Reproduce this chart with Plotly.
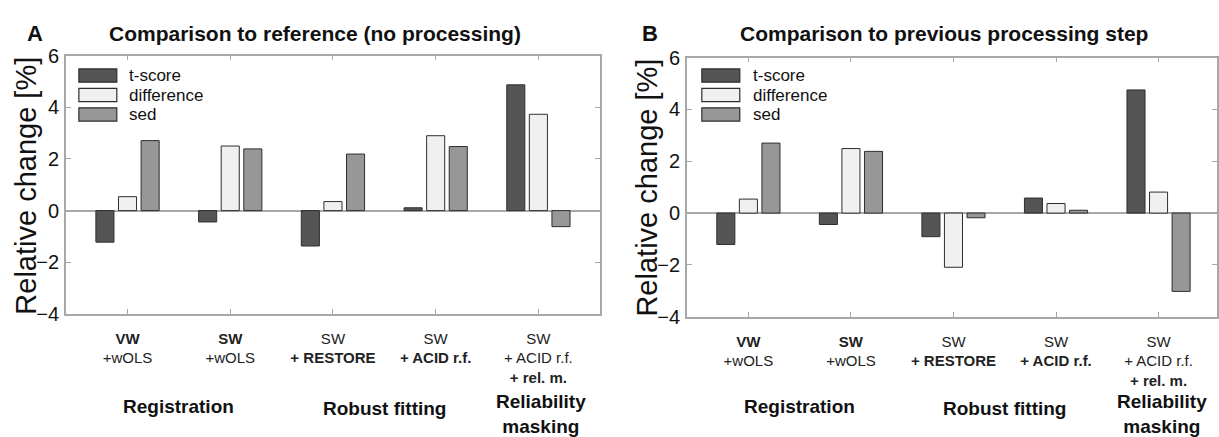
import plotly.graph_objects as go

W, H = 1219, 437

categories = [0, 1, 2, 3, 4]
tick_labels = [
    "<b>VW</b><br>+wOLS",
    "<b>SW</b><br>+wOLS",
    "SW<br><b>+ RESTORE</b>",
    "SW<br><b>+ ACID r.f.</b>",
    "SW<br>+ ACID r.f.<br><b>+ rel. m.</b>",
]
series_names = ["t-score", "difference", "sed"]

# Panel A: comparison to reference (no processing)
a_tscore = [-1.22, -0.44, -1.37, 0.11, 4.87]
a_difference = [0.54, 2.50, 0.35, 2.90, 3.73]
a_sed = [2.71, 2.39, 2.19, 2.48, -0.62]

# Panel B: comparison to previous processing step
b_tscore = [-1.21, -0.44, -0.91, 0.58, 4.75]
b_difference = [0.54, 2.49, -2.09, 0.37, 0.81]
b_sed = [2.70, 2.38, -0.18, 0.11, -3.02]

group_labels = ["Registration", "Robust fitting", "Reliability<br>masking"]
y_ticks = [-4, -2, 0, 2, 4, 6]
y_title = "Relative change [%]"

colors = ["#555555", "#f0f0f0", "#979797"]
edge = "#2e2e2e"
frame = "#a8a8a8"
FONT = "Liberation Sans, Arial, sans-serif"


def px(x):
    return x / W


def py(y):
    return 1 - y / H


fig = go.Figure()

panels = [
    ("x", "y", [a_tscore, a_difference, a_sed]),
    ("x2", "y2", [b_tscore, b_difference, b_sed]),
]
for xa, ya, vals in panels:
    for name, v, c in zip(series_names, vals, colors):
        fig.add_trace(go.Bar(
            x=categories, y=v, name=name, xaxis=xa, yaxis=ya,
            marker=dict(color=c, line=dict(color=edge, width=1)),
            showlegend=False,
        ))

xcommon = dict(
    tickvals=categories, ticktext=tick_labels, ticks="inside", ticklen=5,
    tickcolor=frame, showline=True, linecolor=frame, linewidth=1.5,
    mirror="ticks", showgrid=False, zeroline=False,
    tickfont=dict(family=FONT, size=15, color="#222"),
    ticklabelstandoff=10,
)
ycommon = dict(
    range=[-4, 6], tickvals=y_ticks, ticks="inside", ticklen=5,
    tickcolor=frame, showline=True, linecolor=frame, linewidth=1.5,
    mirror="ticks", showgrid=False, zeroline=True, zerolinecolor=frame,
    zerolinewidth=1.5,
    tickfont=dict(family=FONT, size=20, color="#111"),
    ticklabelstandoff=1,
)

fig.update_layout(
    width=W, height=H, margin=dict(l=0, r=0, t=0, b=0),
    paper_bgcolor="white", plot_bgcolor="white",
    barmode="group", bargap=0.34, bargroupgap=0.2,
    xaxis=dict(domain=[px(66), px(601)], range=[-0.6, 4.6], anchor="y", **xcommon),
    yaxis=dict(domain=[py(319), py(47)], anchor="x", **ycommon),
    xaxis2=dict(domain=[px(688), 1.0], range=[-0.6, 4.57], anchor="y2", **xcommon),
    yaxis2=dict(domain=[py(322), py(49)], anchor="x2", **ycommon),
    showlegend=False,
)

ann = []
# Titles and panel letters
for letter, lx, title, tx in [("A", 35, "Comparison to reference (no processing)", 316),
                              ("B", 651, "Comparison to previous processing step", 946)]:
    ann.append(dict(text=f"<b>{letter}</b>", x=px(lx), y=py(24), xref="paper", yref="paper",
                    showarrow=False, xanchor="center", yanchor="middle",
                    font=dict(family=FONT, size=22, color="#111")))
    ann.append(dict(text=f"<b>{title}</b>", x=px(tx), y=py(24), xref="paper", yref="paper",
                    showarrow=False, xanchor="center", yanchor="middle",
                    font=dict(family=FONT, size=21, color="#111")))

# Y-axis titles
for yx, yc in [(26, 184), (648, 186)]:
    ann.append(dict(text=y_title, x=px(yx), y=py(yc), xref="paper", yref="paper",
                    showarrow=False, xanchor="center", yanchor="middle", textangle=-90,
                    font=dict(family=FONT, size=29, color="#111")))

# Group labels (data x positions on each panel's axis)
for xr in ["x", "x2"]:
    for text, gx, gy in [(group_labels[0], 0.5, 416), (group_labels[1], 2.5, 419),
                         (group_labels[2], 4.03, 424)]:
        ann.append(dict(text=f"<b>{text}</b>", x=gx, y=py(gy), xref=xr, yref="paper",
                        showarrow=False, xanchor="center", yanchor="middle",
                        font=dict(family=FONT, size=19, color="#111")))

# Legends (manual swatches)
shapes = []
for sx, tx, ytop in [(79, 127, 61), (703, 752, 61)]:
    for i, (name, c) in enumerate(zip(series_names, colors)):
        y0 = ytop + i * 20.5
        shapes.append(dict(type="rect", xref="paper", yref="paper",
                           x0=px(sx), x1=px(sx + 38), y0=py(y0 + 14), y1=py(y0),
                           fillcolor=c, line=dict(color=edge, width=1.2)))
        ann.append(dict(text=name, x=px(tx), y=py(y0 + 7), xref="paper", yref="paper",
                        showarrow=False, xanchor="left", yanchor="middle",
                        font=dict(family=FONT, size=17, color="#111")))

fig.update_layout(annotations=ann, shapes=shapes)
fig.write_html("out.html")
